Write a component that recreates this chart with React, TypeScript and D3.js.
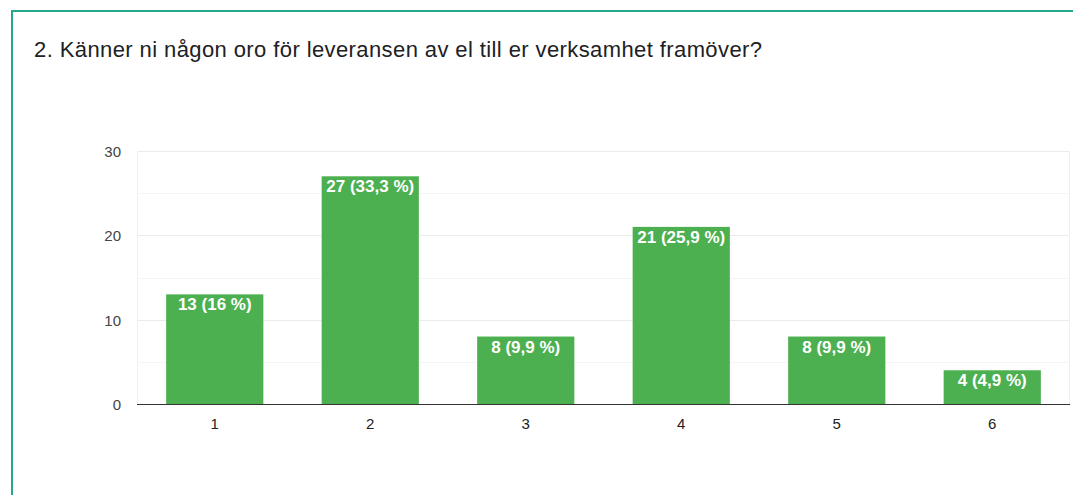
import React from "react";
import * as d3 from "d3";

const title = "2. Känner ni någon oro för leveransen av el till er verksamhet framöver?";
const categories = ["1", "2", "3", "4", "5", "6"];
const counts = [13, 27, 8, 21, 8, 4];
const percents = ["16", "33,3", "9,9", "25,9", "9,9", "4,9"];
const yTicks = [0, 10, 20, 30];
const yMinorTicks = [5, 15, 25];

const W = 1073;
const H = 495;
const plot = { left: 137, right: 1070, top: 151, bottom: 404 };

export default function App() {
  const x = d3
    .scaleBand<string>()
    .domain(categories)
    .range([plot.left, plot.right])
    .paddingInner(0.375)
    .paddingOuter(0.1875);
  const y = d3.scaleLinear().domain([0, 30]).range([plot.bottom, plot.top]);
  const font = "'Liberation Sans', Arial, sans-serif";

  return (
    <svg
      width={W}
      height={H}
      style={{ position: "absolute", left: 0, top: 0, background: "#fff" }}
      fontFamily={font}
    >
      <rect x={0} y={0} width={W} height={H} fill="#fff" />
      {/* card border */}
      <line x1={12} y1={11} x2={W} y2={11} stroke="#26a68a" strokeWidth={2} />
      <line x1={12} y1={10} x2={12} y2={H} stroke="#26a68a" strokeWidth={2} />

      <text x={34} y={57} fontSize={22} fill="#202124" textLength={728} lengthAdjust="spacing">
        {title}
      </text>

      {/* gridlines */}
      {yMinorTicks.map((t) => (
        <line
          key={"m" + t}
          x1={plot.left}
          x2={plot.right}
          y1={Math.round(y(t)) + 0.5}
          y2={Math.round(y(t)) + 0.5}
          stroke="#f5f5f5"
        />
      ))}
      {yTicks.map((t) => (
        <line
          key={"g" + t}
          x1={plot.left}
          x2={plot.right}
          y1={Math.round(y(t)) + 0.5}
          y2={Math.round(y(t)) + 0.5}
          stroke="#ebebeb"
        />
      ))}
      <line x1={plot.left + 0.5} x2={plot.left + 0.5} y1={plot.top} y2={plot.bottom} stroke="#f0f0f0" />
      <line x1={plot.right - 0.5} x2={plot.right - 0.5} y1={plot.top} y2={plot.bottom} stroke="#f0f0f0" />

      {yTicks.map((t) => (
        <text key={"yl" + t} x={121} y={y(t) + 6} textAnchor="end" fontSize={15} fill="#444">
          {t}
        </text>
      ))}

      {categories.map((c, i) => {
        const bx = x(c)!;
        const by = y(counts[i]);
        return (
          <g key={c}>
            <rect x={bx} y={by} width={x.bandwidth()} height={plot.bottom - by} fill="#4caf50" />
            <text
              x={bx + x.bandwidth() / 2}
              y={by + 16}
              textAnchor="middle"
              fontSize={17}
              fontWeight={700}
              fill="#fff"
            >
              {`${counts[i]} (${percents[i]} %)`}
            </text>
            <text x={bx + x.bandwidth() / 2} y={429} textAnchor="middle" fontSize={15} fill="#222">
              {c}
            </text>
          </g>
        );
      })}

      <line x1={plot.left} x2={plot.right} y1={plot.bottom + 0.5} y2={plot.bottom + 0.5} stroke="#333" />
    </svg>
  );
}
